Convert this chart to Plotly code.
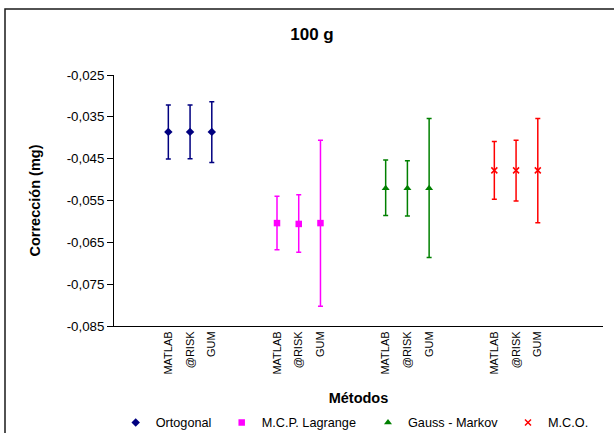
import plotly.graph_objects as go

methods = ["MATLAB", "@RISK", "GUM"]
series_names = ["Ortogonal", "M.C.P. Lagrange", "Gauss - Markov", "M.C.O."]

orto_val = [-0.0386, -0.0386, -0.0386]
orto_hi = [-0.0322, -0.0322, -0.0314]
orto_lo = [-0.0451, -0.0450, -0.0459]

lag_val = [-0.0604, -0.0606, -0.0604]
lag_hi = [-0.0540, -0.0536, -0.0406]
lag_lo = [-0.0668, -0.0674, -0.0803]

gm_val = [-0.0521, -0.0521, -0.0521]
gm_hi = [-0.0453, -0.0455, -0.0354]
gm_lo = [-0.0586, -0.0587, -0.0686]

mco_val = [-0.0478, -0.0478, -0.0478]
mco_hi = [-0.0409, -0.0406, -0.0354]
mco_lo = [-0.0547, -0.0551, -0.0603]

y_tickvals = [-0.025, -0.035, -0.045, -0.055, -0.065, -0.075, -0.085]
y_ticktext = ["-0,025", "-0,035", "-0,045", "-0,055", "-0,065", "-0,075", "-0,085"]

values = [orto_val, lag_val, gm_val, mco_val]
highs = [orto_hi, lag_hi, gm_hi, mco_hi]
lows = [orto_lo, lag_lo, gm_lo, mco_lo]
colors = ["#000080", "#FF00FF", "#008000", "#FF0000"]
symbols = ["diamond", "square", "triangle-up", "x-thin-open"]
sizes = [6.5, 6.5, 7, 6]
legend_left_px = [115.7, 221.7, 368, 508]

FONT = "Liberation Sans, Arial, sans-serif"
GROUP_STEP = 5

fig = go.Figure()
tickvals, ticktext = [], []
legend_ids = ["legend", "legend2", "legend3", "legend4"]
for g, name in enumerate(series_names):
    xs = [g * GROUP_STEP + i for i in range(len(methods))]
    tickvals += xs
    ticktext += methods
    v, hi, lo = values[g], highs[g], lows[g]
    fig.add_trace(go.Scatter(
        x=xs, y=v, mode="markers", name=name, legend=legend_ids[g],
        marker=dict(symbol=symbols[g], color=colors[g], size=sizes[g],
                    line=dict(color=colors[g], width=1.5 if g == 3 else 0)),
        error_y=dict(type="data", symmetric=False,
                     array=[h - c for h, c in zip(hi, v)],
                     arrayminus=[c - l for c, l in zip(v, lo)],
                     color=colors[g], thickness=1.5, width=2.5),
    ))

legend_common = dict(orientation="h", xref="container", yref="container",
                     xanchor="left", y=1 - 422.7 / 433, yanchor="middle",
                     font=dict(size=12.7, family=FONT), bgcolor="rgba(0,0,0,0)",
                     itemwidth=30)
legends = {}
for g, lid in enumerate(legend_ids):
    legends[lid] = dict(legend_common, x=legend_left_px[g] / 614)

fig.update_layout(
    width=614, height=433,
    margin=dict(l=114, r=11, t=75, b=107, autoexpand=False),
    paper_bgcolor="white", plot_bgcolor="white",
    font=dict(family=FONT, color="black"),
    title=dict(text="<b>100 g</b>", x=312 / 614, xanchor="center",
               y=1 - 34 / 433, yanchor="middle", xref="container", yref="container",
               font=dict(size=17, family=FONT, color="black")),
    showlegend=True,
    shapes=[dict(type="rect", xref="paper", yref="paper",
                 x0=(5 - 114) / 489, x1=(630 - 114) / 489,
                 y0=-(450 - 326) / 251, y1=1 + (75 - 9) / 251,
                 line=dict(color="#1a1a1a", width=1.5), layer="below")],
    **legends,
)

fig.update_xaxes(
    range=[-2.5, 20.0], showgrid=False, zeroline=False, automargin=False,
    showline=True, linecolor="black", linewidth=1,
    tickmode="array", tickvals=tickvals, ticktext=ticktext,
    tickangle=-90, ticks="", tickfont=dict(size=11, family=FONT),
    title=dict(text="<b>Métodos</b>", font=dict(size=14.5, family=FONT), standoff=19),
)
fig.update_yaxes(
    range=[-0.085, -0.025], showgrid=False, zeroline=False, automargin=False,
    showline=True, linecolor="black", linewidth=1,
    tickmode="array", tickvals=y_tickvals, ticktext=y_ticktext,
    ticks="outside", ticklen=6, tickcolor="black",
    tickfont=dict(size=13.3, family=FONT),
    title=dict(text="<b>Corrección (mg)</b>", font=dict(size=14.5, family=FONT), standoff=22),
)

fig.write_html("out.html")
